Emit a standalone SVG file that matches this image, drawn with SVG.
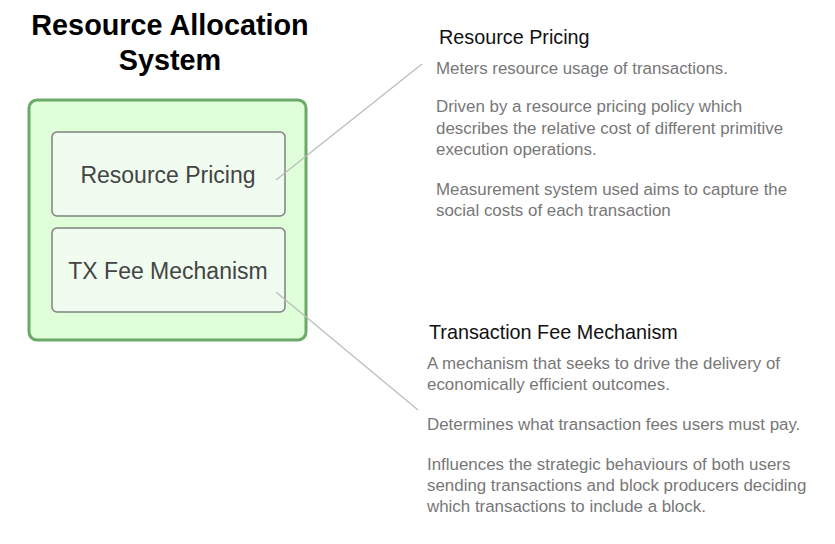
<svg xmlns="http://www.w3.org/2000/svg" width="835" height="544" viewBox="0 0 835 544">
<style>
.t{font-family:"Liberation Sans",Arial,sans-serif}
.title{font-size:28.8px;font-weight:bold;fill:#000}
.node{font-size:23px;fill:#444}
.h{font-size:19.8px;fill:#111}
.p{font-size:16.9px;fill:#777}
.inner{fill:#f0fcf0;stroke:#808080;stroke-width:1.5}
.conn{stroke:#bbbbbb;stroke-width:1.2;fill:none}
</style>
<rect width="835" height="544" fill="#fff"/>
<g id="title"><text class="t title" x="170" y="35" text-anchor="middle">Resource Allocation</text><text class="t title" x="170" y="70" text-anchor="middle">System</text></g>
<g id="container"><rect x="29" y="100" width="277" height="240" rx="8" fill="#dfffd8" stroke="#6aaa68" stroke-width="3"/></g>
<g id="resource-pricing"><rect class="inner" x="52" y="132" width="233" height="84" rx="5"/><text class="t node" x="168" y="183" text-anchor="middle">Resource Pricing</text></g>
<g id="tx-fee"><rect class="inner" x="52" y="228" width="233" height="84" rx="5"/><text class="t node" x="168" y="279" text-anchor="middle">TX Fee Mechanism</text></g>
<g id="connectors"><line class="conn" x1="276" y1="180" x2="422" y2="64"/><line class="conn" x1="276" y1="292" x2="418" y2="410"/></g>
<g id="rp-note"><text class="t h" x="439" y="44">Resource Pricing</text>
<text class="t p" x="436" y="74">Meters resource usage of transactions.</text>
<text class="t p" x="436" y="112">Driven by a resource pricing policy which</text>
<text class="t p" x="436" y="134">describes the relative cost of different primitive</text>
<text class="t p" x="436" y="155">execution operations.</text>
<text class="t p" x="436" y="195">Measurement system used aims to capture the</text>
<text class="t p" x="436" y="216">social costs of each transaction</text></g>
<g id="tfm-note"><text class="t h" x="429" y="339">Transaction Fee Mechanism</text>
<text class="t p" x="427" y="369">A mechanism that seeks to drive the delivery of</text>
<text class="t p" x="427" y="390">economically efficient outcomes.</text>
<text class="t p" x="427" y="430">Determines what transaction fees users must pay.</text>
<text class="t p" x="427" y="470">Influences the strategic behaviours of both users</text>
<text class="t p" x="427" y="491">sending transactions and block producers deciding</text>
<text class="t p" x="427" y="512">which transactions to include a block.</text></g>
</svg>
